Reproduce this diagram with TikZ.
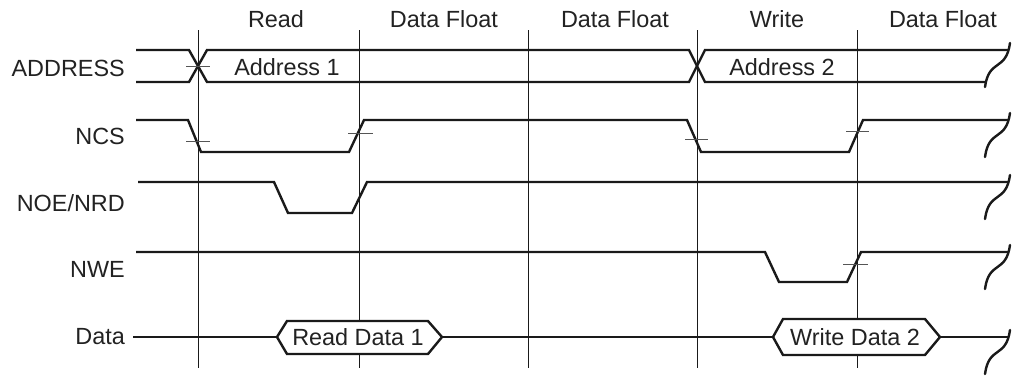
\documentclass[tikz,border=0pt]{standalone}
\usepackage{fontspec}
\setmainfont{Liberation Sans}
\usetikzlibrary{calc}
\definecolor{ink}{HTML}{1A1A1A}
\definecolor{txtc}{HTML}{222222}
\definecolor{tickc}{HTML}{555555}
\begin{document}
\begin{tikzpicture}[x=1bp,y=-1bp,
  sig/.style={line width=2.4bp, draw=ink, line join=miter},
  vline/.style={line width=0.9bp, draw=ink},
  tickline/.style={line width=0.9bp, draw=tickc},
  lbl/.style={anchor=base east, inner sep=0, text=txtc},
  hdr/.style={anchor=base, inner sep=0, text=txtc},
  every node/.append style={font=\fontsize{23.5}{28}\selectfont},
  brk/.pic={\draw[sig, line cap=round] (2,-7) .. controls (-2,22) and (-19,8) .. (-23,37);}]
\useasboundingbox (0,0) rectangle (1020,376);

% vertical reference lines
\foreach \n/\x in {1/198,2/359,3/528,4/697,5/857}{
  \coordinate (v\n t) at (\x,30);
  \coordinate (v\n b) at (\x,368);
  \draw[vline] (v\n t) -- (v\n b);
}

% header labels
\node[hdr] (h1) at (276,27) {Read};
\node[hdr] (h2) at (444,27) {Data Float};
\node[hdr] (h3) at (615,27) {Data Float};
\node[hdr] (h4) at (777,27) {Write};
\node[hdr] (h5) at (943,27) {Data Float};

% signal labels
\node[lbl] (lA) at (125,76) {ADDRESS};
\node[lbl] (lB) at (125,144) {NCS};
\node[lbl] (lC) at (125,211) {NOE/NRD};
\node[lbl] (lD) at (125,277) {NWE};
\node[lbl] (lE) at (125,344) {Data};

% ADDRESS bus
\draw[sig] (136,50) -- (189,50) -- (207,82) -- (689,82) -- (705,50) -- (1008,50);
\draw[sig] (136,82) -- (189,82) -- (207,50) -- (689,50) -- (705,82) -- (985,82);
\node[hdr] (a1) at (287,75) {Address 1};
\node[hdr] (a2) at (782,75) {Address 2};
\draw[tickline] (186,66) -- (210,66);
\pic at (1008,50) {brk};

% NCS
\draw[sig] (136,120) -- (188,120) -- (201,152) -- (349,152) -- (364,120) -- (687,120) -- (701,152) -- (849,152) -- (863,120) -- (1008,120);
\draw[tickline] (186,141) -- (210,141);
\draw[tickline] (348,133) -- (373,133);
\draw[tickline] (685,139) -- (708,139);
\draw[tickline] (846,131) -- (869,131);
\pic at (1008,120) {brk};

% NOE/NRD
\draw[sig] (138,182) -- (274,182) -- (288,213) -- (352,213) -- (367,182) -- (1008,182);
\pic at (1008,182) {brk};

% NWE
\draw[sig] (136,252) -- (765,252) -- (779,282) -- (847,282) -- (861,252) -- (1008,252);
\draw[tickline] (843,264) -- (868,264);
\pic at (1008,252) {brk};

% Data
\coordinate (d0) at (133,337);
\coordinate (r1) at (277,337);
\coordinate (r2) at (442,337);
\coordinate (w1) at (773,337);
\coordinate (w2) at (940,337);
\coordinate (d9) at (1008,337);
\draw[sig] (d0) -- (r1);
\draw[sig] (r2) -- (w1);
\draw[sig] (w2) -- (d9);
\draw[sig, fill=white] (r1) -- (287,321) -- (428,321) -- (r2) -- (428,354) -- (287,354) -- cycle;
\draw[sig, fill=white] (w1) -- (783,319) -- (925,319) -- (w2) -- (925,355) -- (783,355) -- cycle;
\node[hdr] (rd) at (358,345) {Read Data 1};
\node[hdr] (wd) at (855,345) {Write Data 2};
\pic at (1008,337) {brk};
\end{tikzpicture}
\end{document}
